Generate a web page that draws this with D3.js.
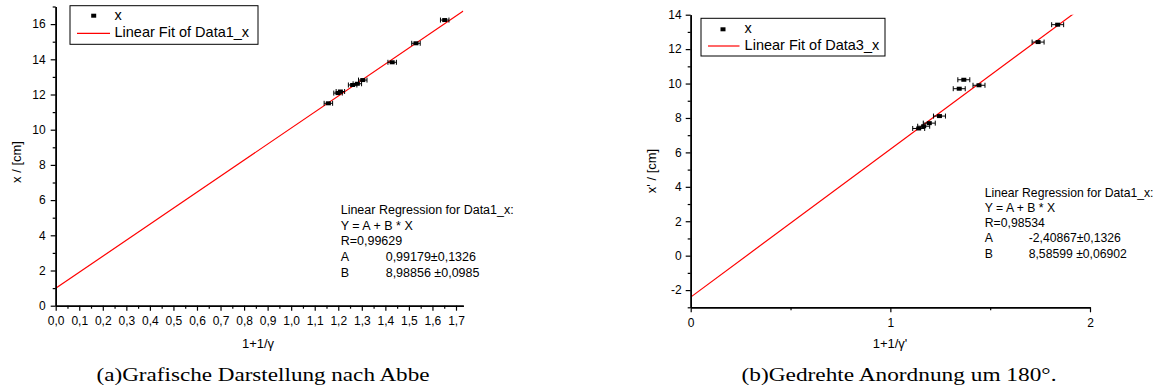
<!DOCTYPE html>
<html><head><meta charset="utf-8">
<script src="https://cdn.jsdelivr.net/npm/d3@7"></script>
<style>body{margin:0;background:#fff}svg{display:block}</style>
</head><body>
<svg id="c" width="1160" height="392"></svg>
<script>
// ---- data ----
const leftX    = [1.158, 1.199, 1.209, 1.261, 1.281, 1.304, 1.429, 1.530, 1.652];
const leftY    = [11.50, 12.08, 12.17, 12.54, 12.61, 12.82, 13.83, 14.91, 16.23];
const leftXErr = [0.018, 0.018, 0.018, 0.018, 0.018, 0.018, 0.018, 0.018, 0.018];
const leftFitLine = [0.99, 9.10];          // intercept, slope of the drawn red line
const leftXTicks = [0,0.1,0.2,0.3,0.4,0.5,0.6,0.7,0.8,0.9,1.0,1.1,1.2,1.3,1.4,1.5,1.6,1.7];
const leftXTickLabels = ["0,0","0,1","0,2","0,3","0,4","0,5","0,6","0,7","0,8","0,9","1,0","1,1","1,2","1,3","1,4","1,5","1,6","1,7"];
const leftYTicks = [0,2,4,6,8,10,12,14,16];
const leftText = ["Linear Regression for Data1_x:", "Y = A + B * X", "R=0,99629"];
const leftParams = [["A","0,99179±0,1326"],["B","8,98856 ±0,0985"]];

const rightX    = [1.142, 1.167, 1.195, 1.246, 1.345, 1.368, 1.444, 1.740, 1.838];
const rightY    = [7.39, 7.52, 7.70, 8.11, 9.70, 10.22, 9.90, 12.41, 13.42];
const rightXErr = [0.03, 0.03, 0.03, 0.03, 0.03, 0.03, 0.03, 0.03, 0.03];
const rightFitLine = [-2.40867, 8.58599];
const rightXTicks = [0,1,2];
const rightXTickLabels = ["0","1","2"];
const rightYTicks = [-2,0,2,4,6,8,10,12,14];
const rightText = ["Linear Regression for Data1_x:", "Y = A + B * X", "R=0,98534"];
const rightParams = [["A","-2,40867±0,1326"],["B","8,58599 ±0,06902"]];

const svg = d3.select("#c");
const SANS = "'Liberation Sans', Arial, sans-serif";
let clipId = 0;

function panel(o){
  const g = svg.append("g");
  const x = d3.scaleLinear().domain(o.xDom).range(o.xRange);
  const y = d3.scaleLinear().domain(o.yDom).range(o.yRange);

  const cid = "clip" + (clipId++);
  svg.append("clipPath").attr("id",cid).append("rect")
    .attr("x",o.xRange[0]).attr("y",o.yRange[1]).attr("width",o.xRange[1]-o.xRange[0]).attr("height",o.yRange[0]-o.yRange[1]);

  // fit line
  const ln = d3.line().x(d=>x(d)).y(d=>y(o.fit[0]+o.fit[1]*d));
  g.append("path").datum([o.xDom[0],o.xDom[1]]).attr("d",ln).attr("clip-path",`url(#${cid})`)
    .attr("fill","none").attr("stroke","#ff0000").attr("stroke-width",1.2);

  // error bars + markers
  const pts = o.xs.map((v,i)=>({x:v,y:o.ys[i],e:o.xe[i]}));
  const eg = g.append("g").attr("stroke","#000").attr("stroke-width",1);
  pts.forEach(p=>{
    const y0 = y(p.y), xl = x(p.x-p.e), xr = x(p.x+p.e);
    eg.append("line").attr("x1",xl).attr("x2",xr).attr("y1",y0).attr("y2",y0);
    eg.append("line").attr("x1",xl).attr("x2",xl).attr("y1",y0-2.5).attr("y2",y0+2.5);
    eg.append("line").attr("x1",xr).attr("x2",xr).attr("y1",y0-2.5).attr("y2",y0+2.5);
  });
  g.append("g").selectAll("rect").data(pts).join("rect")
    .attr("x",d=>x(d.x)-2.5).attr("y",d=>y(d.y)-2).attr("width",5).attr("height",4).attr("fill","#000");

  // axes
  const xa = d3.axisBottom(x).tickValues(o.xTicks).tickFormat((d,i)=>o.xLabels[i]).tickSize(5).tickPadding(o.xPad).tickSizeOuter(0);
  const xm = d3.axisBottom(x).tickValues(o.xMinor).tickFormat("").tickSize(3).tickSizeOuter(0);
  const ya = d3.axisLeft(y).tickValues(o.yTicks).tickFormat(d=>String(d)).tickSize(5).tickPadding(o.yPad).tickSizeOuter(0);
  const ym = d3.axisLeft(y).tickValues(o.yMinor).tickFormat("").tickSize(3).tickSizeOuter(0);
  const by = o.yRange[0];
  [ [xa,`translate(0,${by})`], [xm,`translate(0,${by})`], [ya,`translate(${o.xRange[0]},0)`], [ym,`translate(${o.xRange[0]},0)`] ]
   .forEach(([a,t])=>{
     const ag = g.append("g").attr("transform",t).call(a);
     ag.selectAll("path").attr("stroke","#000").attr("stroke-width",1.5);
     ag.selectAll("line").attr("stroke","#000").attr("stroke-width",1.2);
     ag.selectAll("text").attr("font-family",SANS).attr("font-size",12).attr("fill","#000");
   });

  // axis titles
  g.append("text").attr("x",o.xTitlePos[0]).attr("y",o.xTitlePos[1]).attr("text-anchor","middle")
    .attr("dominant-baseline","middle").attr("font-family",SANS).attr("font-size",13).text(o.xTitle);
  g.append("text").attr("transform",`translate(${o.yTitlePos[0]},${o.yTitlePos[1]}) rotate(-90)`).attr("text-anchor","middle")
    .attr("dominant-baseline","middle").attr("font-family",SANS).attr("font-size",13).text(o.yTitle);

  // legend
  const L = o.legend;
  g.append("rect").attr("x",L.x).attr("y",L.y).attr("width",L.w).attr("height",L.h)
    .attr("fill","#fff").attr("stroke","#000").attr("stroke-width",1);
  g.append("rect").attr("x",L.mx-2.5).attr("y",L.r1-2).attr("width",5).attr("height",4).attr("fill","#000");
  g.append("text").attr("x",L.tx).attr("y",L.r1).attr("dominant-baseline","middle").attr("font-family",SANS).attr("font-size",14.5).text("x");
  g.append("line").attr("x1",L.lx1).attr("x2",L.lx2).attr("y1",L.r2).attr("y2",L.r2).attr("stroke","#ff0000").attr("stroke-width",1.2);
  g.append("text").attr("x",L.tx).attr("y",L.r2).attr("dominant-baseline","middle").attr("font-family",SANS).attr("font-size",14.5).text(L.label);

  // regression text
  const R = o.reg;
  o.regText.forEach((t,i)=>{
    g.append("text").attr("x",R.x).attr("y",R.y+i*R.dy).attr("dominant-baseline","middle")
      .attr("font-family",SANS).attr("font-size",R.fs).text(t);
  });
  o.regParams.forEach((p,i)=>{
    const yy = R.y+(i+3)*R.dy;
    g.append("text").attr("x",R.x).attr("y",yy).attr("dominant-baseline","middle").attr("font-family",SANS).attr("font-size",R.fs).text(p[0]);
    g.append("text").attr("x",R.vx).attr("y",yy).attr("dominant-baseline","middle").attr("font-family",SANS).attr("font-size",R.fs).text(p[1]);
  });

  // caption
  g.append("text").attr("x",o.cap.x).attr("y",o.cap.y).attr("text-anchor","middle").attr("dominant-baseline","middle")
    .attr("font-family","'Liberation Serif','DejaVu Serif',serif").attr("font-size",18)
    .attr("textLength",o.cap.w).attr("lengthAdjust","spacingAndGlyphs").text(o.cap.text);
}

panel({
  xs:leftX, ys:leftY, xe:leftXErr, fit:leftFitLine,
  xDom:[0,1.731], xRange:[55.7,463.3], yDom:[0,17], yRange:[305.7,6.5],
  xTicks:leftXTicks, xLabels:leftXTickLabels, xMinor:d3.range(0.05,1.75,0.1), xPad:6,
  yTicks:leftYTicks, yMinor:[1,3,5,7,9,11,13,15,17], yPad:5,
  xTitle:"1+1/γ", xTitlePos:[258,345], yTitle:"x / [cm]", yTitlePos:[18,162],
  legend:{x:70,y:5.7,w:188,h:38.6,mx:93.7,tx:114.5,r1:15.7,r2:33.3,lx1:77,lx2:110,label:"Linear Fit of Data1_x"},
  regText:leftText, regParams:leftParams, reg:{x:340.7,vx:385.7,y:211,dy:15.6,fs:12.5},
  cap:{x:263,y:376.7,w:333,text:"(a)Grafische Darstellung nach Abbe"}
});

panel({
  xs:rightX, ys:rightY, xe:rightXErr, fit:rightFitLine,
  xDom:[0,2], xRange:[690.7,1090], yDom:[-3,14], yRange:[307.3,14.7],
  xTicks:rightXTicks, xLabels:rightXTickLabels, xMinor:[0.5,1.5], xPad:6,
  yTicks:rightYTicks, yMinor:[-3,-1,1,3,5,7,9,11,13], yPad:4,
  xTitle:"1+1/γ'", xTitlePos:[890,345], yTitle:"x' / [cm]", yTitlePos:[653,171],
  legend:{x:701,y:18.3,w:184,h:37.7,mx:723,tx:744.6,r1:29.3,r2:46,lx1:708,lx2:739.5,label:"Linear Fit of Data3_x"},
  regText:rightText, regParams:rightParams, reg:{x:984.8,vx:1028.7,y:193.3,dy:15.25,fs:12.2},
  cap:{x:899,y:376.7,w:315,text:"(b)Gedrehte Anordnung um 180°."}
});
</script>
</body></html>
